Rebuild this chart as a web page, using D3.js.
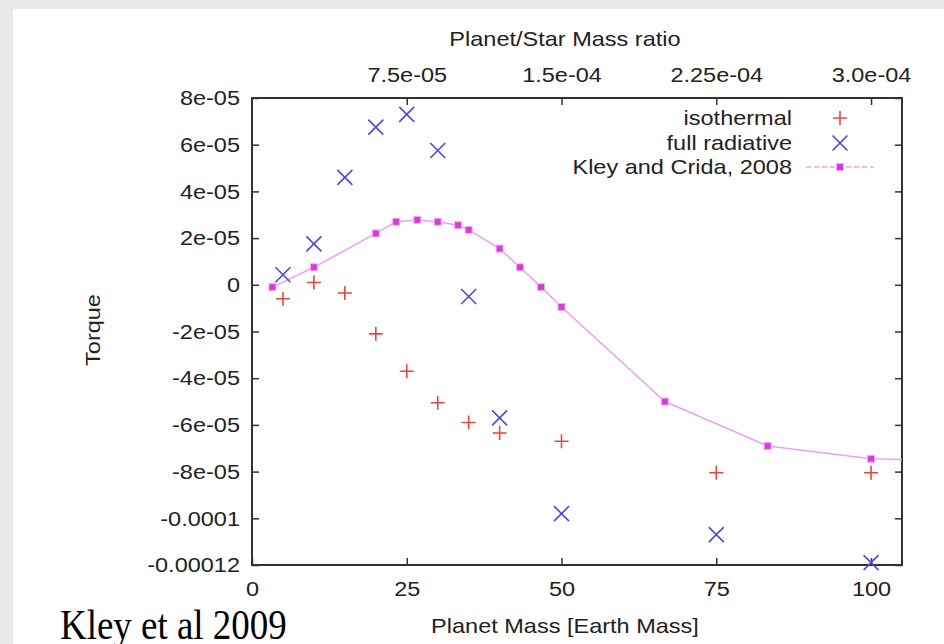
<!DOCTYPE html>
<html>
<head>
<meta charset="utf-8">
<script src="https://cdn.jsdelivr.net/npm/d3@7"></script>
<style>
  body { margin: 0; background: #e9e9e9; }
  svg { display: block; }
  text { font-family: "Liberation Sans", Arial, sans-serif; fill: #222; }
</style>
</head>
<body>
<svg id="chart" width="944" height="644"></svg>
<script>
// planet mass in Earth masses
const mass = [5, 10, 15, 20, 25, 30, 35, 40, 50, 75, 100];
const isothermal = [-6e-6, 1e-6, -3.5e-6, -2.1e-5, -3.7e-5, -5.05e-5, -5.9e-5, -6.35e-5, -6.7e-5, -8.05e-5, -8.05e-5];
const fullRadiative = [4.3e-6, 1.75e-5, 4.6e-5, 6.75e-5, 7.3e-5, 5.75e-5, -5e-6, -5.7e-5, -9.8e-5, -1.07e-4, -1.19e-4];
const kleyMass = [3.3, 10, 20, 23.3, 26.7, 30, 33.3, 35, 40, 43.3, 46.7, 50, 66.7, 83.3, 100, 116.7];
const kleyTorque = [-1e-6, 7.5e-6, 2.2e-5, 2.7e-5, 2.78e-5, 2.7e-5, 2.55e-5, 2.35e-5, 1.55e-5, 7.5e-6, -1e-6, -9.5e-6, -5.0e-5, -6.9e-5, -7.45e-5, -7.55e-5];

const xTicks = [0, 25, 50, 75, 100];
const yTicks = [8e-5, 6e-5, 4e-5, 2e-5, 0, -2e-5, -4e-5, -6e-5, -8e-5, -1e-4, -1.2e-4];
const yTickLabels = ["8e-05", "6e-05", "4e-05", "2e-05", "0", "-2e-05", "-4e-05", "-6e-05", "-8e-05", "-0.0001", "-0.00012"];
const ratioTicks = [7.5e-5, 1.5e-4, 2.25e-4, 3.0e-4];
const ratioTickLabels = ["7.5e-05", "1.5e-04", "2.25e-04", "3.0e-04"];
const massToRatio = 3e-6;

const svg = d3.select("#chart");
const margin = { top: 98, right: 42, bottom: 79, left: 252 };
const W = 944, H = 644;
const fs = "21px", stretch = 1.12;

// white page area over the grey border
svg.append("rect").attr("x", 13).attr("y", 9).attr("width", W).attr("height", H).attr("fill", "#fff");

// cut-off title glyph at the very top
svg.append("text").attr("x", 712).attr("y", -10)
  .style("font-family", "'Liberation Serif', serif").style("font-size", "40px").style("font-weight", "bold")
  .style("fill", "#000").text("g");

const x = d3.scaleLinear().domain([0, 105]).range([margin.left, W - margin.right]);
const x2 = d3.scaleLinear().domain([0, 105 * massToRatio]).range([margin.left, W - margin.right]);
const y = d3.scaleLinear().domain([-1.2e-4, 8e-5]).range([H - margin.bottom, margin.top]);

svg.append("clipPath").attr("id", "clip").append("rect")
  .attr("x", margin.left).attr("y", margin.top)
  .attr("width", W - margin.left - margin.right).attr("height", H - margin.top - margin.bottom);

// axes, ticks pointing inward
const styleAxis = g => {
  g.select(".domain").remove();
  g.selectAll(".tick line").attr("stroke", "#333").attr("stroke-width", 1.5);
  g.selectAll(".tick text").attr("class", "sans").style("font-size", fs).attr("fill", "#222");
};

svg.append("g").attr("transform", `translate(${margin.left},0)`)
  .call(d3.axisLeft(y).tickValues(yTicks).tickFormat((d, i) => yTickLabels[i]).tickSizeInner(-7).tickPadding(12))
  .call(styleAxis);
svg.append("g").attr("transform", `translate(${W - margin.right},0)`)
  .call(d3.axisRight(y).tickValues(yTicks).tickFormat("").tickSizeInner(-7))
  .call(styleAxis);
svg.append("g").attr("transform", `translate(0,${H - margin.bottom})`)
  .call(d3.axisBottom(x).tickValues(xTicks).tickSizeInner(-7).tickPadding(16))
  .call(styleAxis);
svg.append("g").attr("transform", `translate(0,${margin.top})`)
  .call(d3.axisTop(x2).tickValues(ratioTicks).tickFormat((d, i) => ratioTickLabels[i]).tickSizeInner(-7).tickPadding(16))
  .call(styleAxis);

svg.append("rect")
  .attr("x", margin.left).attr("y", margin.top)
  .attr("width", W - margin.left - margin.right).attr("height", H - margin.top - margin.bottom)
  .attr("fill", "none").attr("stroke", "#333").attr("stroke-width", 2);

// axis titles
svg.append("text").attr("class", "sans").attr("x", 565).attr("y", 46).attr("text-anchor", "middle")
  .style("font-size", fs).text("Planet/Star Mass ratio");
svg.append("text").attr("class", "sans").attr("x", 565).attr("y", 633).attr("text-anchor", "middle")
  .style("font-size", fs).text("Planet Mass [Earth Mass]");
svg.append("text").attr("transform", "translate(100,330) rotate(-90) scale(1.12,1)").attr("text-anchor", "middle")
  .style("font-size", fs).text("Torque");
svg.append("text").attr("transform", "translate(60,639) scale(0.88,1)")
  .style("font-family", "'Liberation Serif', 'Times New Roman', serif").style("font-size", "42px")
  .style("fill", "#000").text("Kley et al 2009");

// markers
const isoColor = "#e8473b", radColor = "#4b4bd6", kleyColor = "#d83cd8", kleyLine = "#eda0ee";
const plus = (g, cx, cy, s) => {
  g.append("path").attr("d", `M${cx - s},${cy}H${cx + s}M${cx},${cy - s}V${cy + s}`)
    .attr("stroke", isoColor).attr("stroke-width", 1.6).attr("fill", "none");
};
const cross = (g, cx, cy, s) => {
  g.append("path").attr("d", `M${cx - s},${cy - s}L${cx + s},${cy + s}M${cx - s},${cy + s}L${cx + s},${cy - s}`)
    .attr("stroke", radColor).attr("stroke-width", 1.6).attr("fill", "none");
};

const plot = svg.append("g");
const kley = kleyMass.map((m, i) => [m, kleyTorque[i]]);
plot.append("path").datum(kley)
  .attr("clip-path", "url(#clip)")
  .attr("d", d3.line().x(d => x(d[0])).y(d => y(d[1])))
  .attr("fill", "none").attr("stroke", kleyLine).attr("stroke-width", 1.5);
plot.selectAll("rect.kley").data(kley.filter(d => d[0] <= 105)).enter().append("rect")
  .attr("class", "kley")
  .attr("x", d => x(d[0]) - 3.5).attr("y", d => y(d[1]) - 3.5)
  .attr("width", 7).attr("height", 7)
  .attr("fill", kleyColor).attr("stroke", "#f0b0f0").attr("stroke-width", 1);

mass.forEach((m, i) => plus(plot, x(m), y(isothermal[i]), 7));
mass.forEach((m, i) => cross(plot, x(m), y(fullRadiative[i]), 7.5));

// legend
const legX = 792, legS = 840;
const legRows = [118, 143, 167];
const legLabels = ["isothermal", "full radiative", "Kley and Crida, 2008"];
legLabels.forEach((t, i) => {
  svg.append("text").attr("class", "sans").attr("x", legX).attr("y", legRows[i]).attr("dy", "0.35em")
    .attr("text-anchor", "end").style("font-size", fs).text(t);
});
plus(svg, legS, legRows[0], 7);
cross(svg, legS, legRows[1], 7.5);
svg.append("line").attr("x1", 806).attr("x2", 874).attr("y1", legRows[2]).attr("y2", legRows[2])
  .attr("stroke", kleyLine).attr("stroke-width", 1.5).attr("stroke-dasharray", "5,3");
svg.append("rect").attr("x", legS - 3.5).attr("y", legRows[2] - 3.5).attr("width", 7).attr("height", 7)
  .attr("fill", kleyColor).attr("stroke", "#f0b0f0").attr("stroke-width", 1);

// the source figure's lettering is a little wider than Arial: stretch around each anchor
svg.selectAll("text.sans").each(function() {
  const ax = +(this.getAttribute("x") || 0);
  const old = this.getAttribute("transform") || "";
  this.setAttribute("transform", `${old} translate(${ax},0) scale(${stretch},1) translate(${-ax},0)`);
});
</script>
</body>
</html>
